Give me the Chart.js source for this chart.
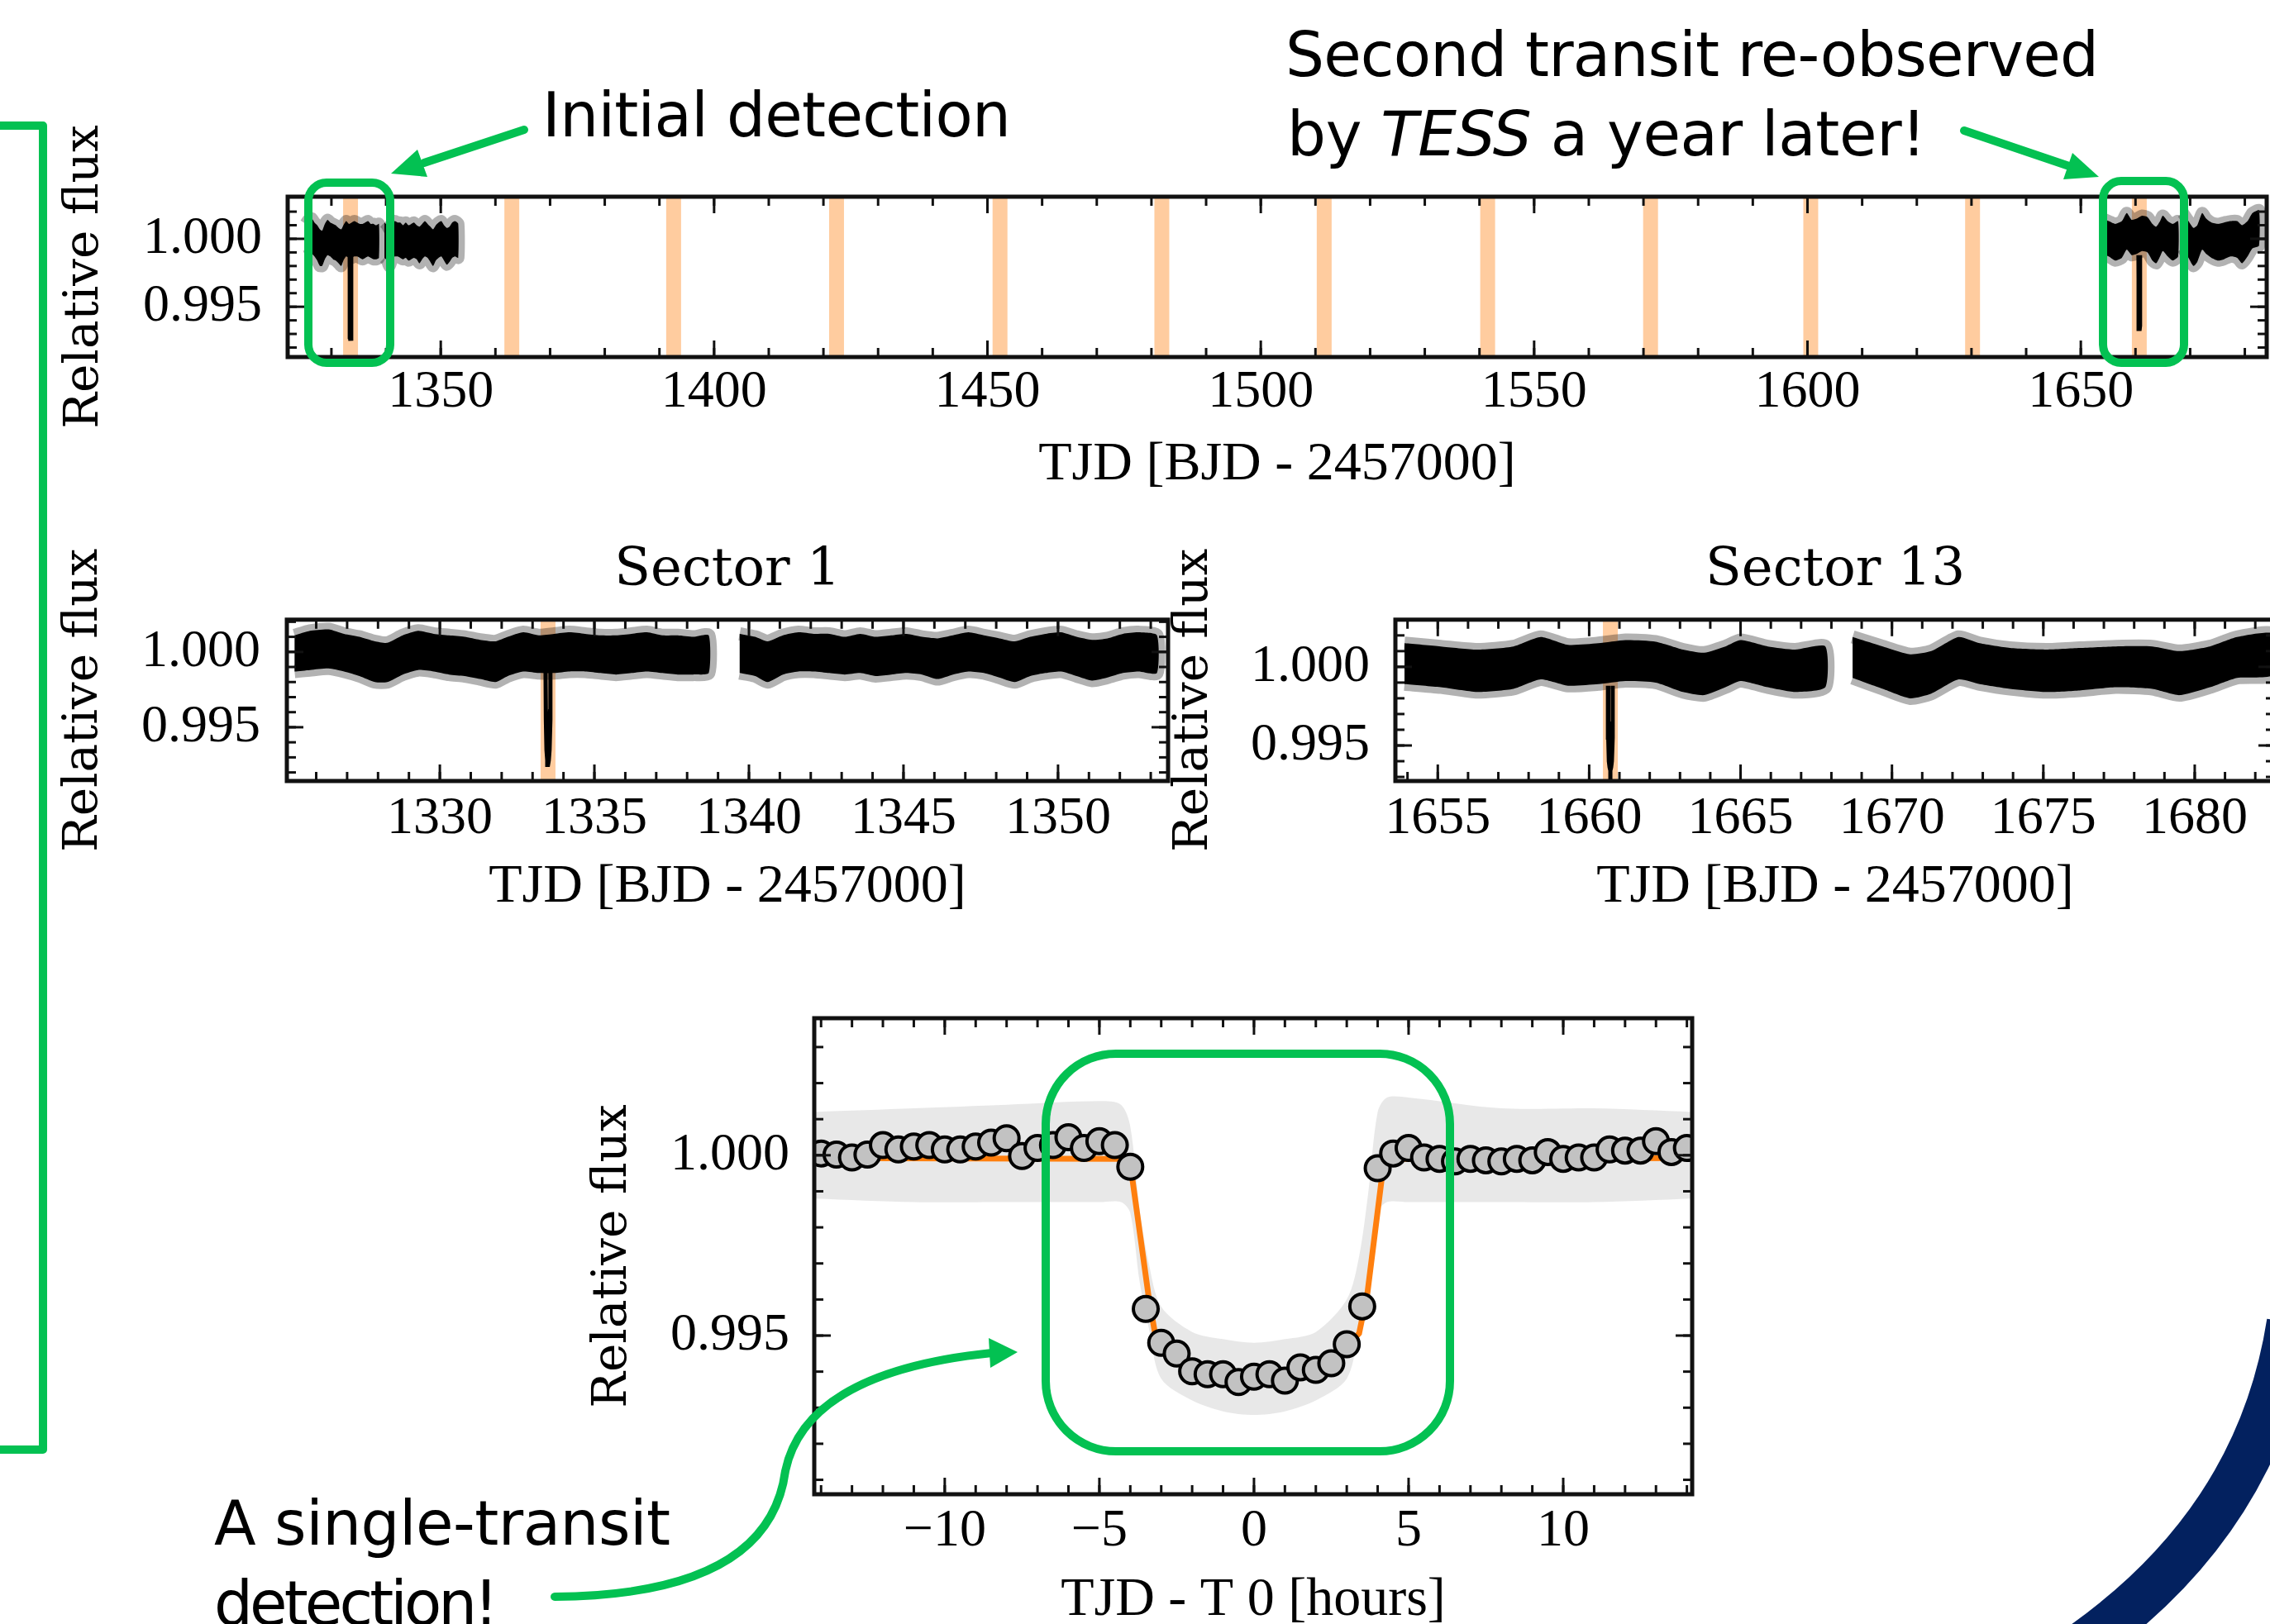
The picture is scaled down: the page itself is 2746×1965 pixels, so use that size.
<!DOCTYPE html>
<html>
<head>
<meta charset="utf-8">
<script src="https://cdn.jsdelivr.net/npm/chart.js@4.4.1/dist/chart.umd.min.js"></script>
<style>
  html, body { margin: 0; padding: 0; background: #fff; }
  #pagina { position: relative; width: 2746px; height: 1965px; overflow: hidden; background: #fff; }
  #pagina canvas { position: absolute; }
  #notas { position: absolute; left: 0; top: 0; }
</style>
</head>
<body>
<div id="pagina">
  <canvas id="completo" width="2686" height="490" style="left:60px;top:120px"></canvas>
  <canvas id="sector1" width="1400" height="520" style="left:60px;top:600px"></canvas>
  <canvas id="sector13" width="1380" height="520" style="left:1380px;top:600px"></canvas>
  <canvas id="plegada" width="1400" height="840" style="left:680px;top:1150px"></canvas>

  <svg id="notas" width="2746" height="1965" viewBox="0 0 2746 1965">
    <!-- arco azul del logo -->
    <path d="M2770 1600 C2745 1760 2660 1900 2490 2010" stroke="#03215f" stroke-width="56" fill="none"/>
    <g fill="none" stroke="#03c152" stroke-width="10" stroke-linecap="round" stroke-linejoin="round">
      <path d="M-10 152 L52 152 L52 1754 L-10 1754"/>
      <rect x="373" y="221" width="99" height="218" rx="22"/>
      <rect x="2544" y="219" width="98" height="220" rx="22"/>
      <rect x="1265" y="1275" width="489" height="481" rx="85"/>
      <path d="M634 157 L513 197"/>
      <path d="M2376 158 L2503 201"/>
      <path d="M671 1932 Q930 1930 950 1780 Q975 1660 1200 1637"/>
    </g>
    <g fill="#03c152">
      <polygon points="473,210 505,181 517,214"/>
      <polygon points="2539,214 2496,217 2507,185"/>
      <polygon points="1231,1636 1196,1619 1198,1655"/>
    </g>
    <g font-family="DejaVu Sans" font-size="74" fill="#000">
      <text x="656" y="165" textLength="567" lengthAdjust="spacing">Initial detection</text>
      <text x="1555" y="92" textLength="984" lengthAdjust="spacing">Second transit re-observed</text>
      <text x="1557" y="188" textLength="773" lengthAdjust="spacing">by <tspan font-style="italic">TESS</tspan> a year later!</text>
      <text x="259" y="1869" textLength="552" lengthAdjust="spacing">A single-transit</text>
      <text x="259" y="1966" textLength="344" lengthAdjust="spacing">detection!</text>
    </g>
  </svg>
</div>

<script>
// Curva de luz del Sector 1 (TJD): borde alto y bajo de la banda de puntos
const tiempoS1 = [1325.3, 1325.8, 1326.4, 1326.9, 1327.4, 1327.9, 1328.3, 1328.8, 1329.3, 1329.8,
  1330.3, 1330.8, 1331.3, 1331.8, 1332.2, 1332.7, 1333.2, 1333.7, 1334.2, 1334.7,
  1335.2, 1335.7, 1336.2, 1336.7, 1337.2, 1337.7, 1338.2, 1338.7, 1339.2,
  1339.7, 1340.2, 1340.6, 1341.1, 1341.6, 1342.1, 1342.6, 1343.1, 1343.6, 1344.1,
  1344.6, 1345.1, 1345.6, 1346.1, 1346.6, 1347.1, 1347.6, 1348.1, 1348.6, 1349.1,
  1349.6, 1350.1, 1350.6, 1351.1, 1351.6, 1352.1, 1352.6, 1353.2];
const altoS1 = [1.0011, 1.0014, 1.0015, 1.0012, 1.0010, 1.0007, 1.0006, 1.0011, 1.0014, 1.0012,
  1.0011, 1.0010, 1.0008, 1.0007, 1.0010, 1.0013, 1.0011, 1.0012, 1.0013, 1.0012,
  1.0011, 1.0011, 1.0012, 1.0013, 1.0011, 1.0011, 1.0010, 1.0011, null,
  1.0012, 1.0010, 1.0007, 1.0011, 1.0013, 1.0012, 1.0012, 1.0010, 1.0012, 1.0010,
  1.0011, 1.0012, 1.0010, 1.0009, 1.0011, 1.0013, 1.0011, 1.0009, 1.0007, 1.0010,
  1.0012, 1.0013, 1.0010, 1.0008, 1.0009, 1.0012, 1.0013, 1.0011];
const bajoS1 = [0.9987, 0.9988, 0.9989, 0.9987, 0.9984, 0.9980, 0.9980, 0.9985, 0.9988, 0.9987,
  0.9985, 0.9984, 0.9982, 0.9980, 0.9984, 0.9987, 0.9986, 0.9986, 0.9987, 0.9987,
  0.9986, 0.9985, 0.9986, 0.9987, 0.9986, 0.9985, 0.9985, 0.9986, null,
  0.9986, 0.9984, 0.9980, 0.9985, 0.9987, 0.9987, 0.9986, 0.9985, 0.9986, 0.9984,
  0.9985, 0.9986, 0.9985, 0.9982, 0.9985, 0.9987, 0.9986, 0.9983, 0.9980, 0.9984,
  0.9986, 0.9987, 0.9984, 0.9981, 0.9983, 0.9986, 0.9987, 0.9986];

// Curva de luz del Sector 13
const tiempoS13 = [1653.9, 1655.1, 1656.3, 1657.5, 1658.4, 1659.3, 1660.3, 1661.2, 1662.2, 1663.1,
  1663.8, 1664.5, 1665.0, 1665.9, 1666.8, 1667.8, 1668.2,
  1668.7, 1669.7, 1670.6, 1671.3, 1672.2, 1672.9, 1673.9, 1675.1, 1676.2,
  1677.4, 1678.6, 1679.5, 1680.5, 1681.4, 1682.6];
const altoS13 = [1.0015, 1.0013, 1.0011, 1.0013, 1.0019, 1.0014, 1.0015, 1.0017, 1.0016, 1.0011,
  1.0009, 1.0013, 1.0017, 1.0013, 1.0011, 1.0013, null,
  1.0019, 1.0013, 1.0008, 1.0010, 1.0019, 1.0015, 1.0012, 1.0011, 1.0012,
  1.0013, 1.0013, 1.0010, 1.0013, 1.0019, 1.0021];
const bajoS13 = [0.9989, 0.9987, 0.9984, 0.9986, 0.9992, 0.9988, 0.9989, 0.9991, 0.9990, 0.9984,
  0.9982, 0.9987, 0.9991, 0.9987, 0.9984, 0.9987, null,
  0.9993, 0.9986, 0.9980, 0.9983, 0.9992, 0.9989, 0.9986, 0.9984, 0.9985,
  0.9987, 0.9986, 0.9982, 0.9987, 0.9993, 0.9995];

// Epocas de transito marcadas en naranja
const epocasTransito = [1333.5, 1363.0, 1392.6, 1422.4, 1452.3, 1481.9, 1511.6, 1541.5, 1571.3, 1600.6, 1630.2, 1660.7];
const t0Sector1 = 1333.5;
const t0Sector13 = 1660.7;

// Puntos dentro del transito (dias respecto a T0): borde alto y bajo
const desfaseTransito = [-0.08, -0.07, -0.05, -0.025, 0, 0.025, 0.05, 0.07, 0.08];
const altoTransito1 = [0.9988, 0.9962, 0.9950, 0.9946, 0.9945, 0.9946, 0.9950, 0.9962, 0.9988];
const bajoTransito1 = [0.9985, 0.9955, 0.9935, 0.9928, 0.9925, 0.9928, 0.9935, 0.9955, 0.9985];
const altoTransito13 = [0.9988, 0.9965, 0.9958, 0.9957, 0.9957, 0.9957, 0.9958, 0.9965, 0.9988];
const bajoTransito13 = [0.9985, 0.9955, 0.9940, 0.9936, 0.9934, 0.9936, 0.9940, 0.9955, 0.9985];

// Curva plegada: datos agrupados (horas)
const horasBin = [-14.0, -13.5, -13.0, -12.5, -12.0, -11.5, -11.0, -10.5, -10.0, -9.5,
  -9.0, -8.5, -8.0, -7.5, -7.0, -6.5, -6.0, -5.5, -5.0, -4.5,
  -4.0, -3.5, -3.0, -2.5, -2.0, -1.5, -1.0, -0.5, 0.0, 0.5,
  1.0, 1.5, 2.0, 2.5, 3.0, 3.5, 4.0, 4.5, 5.0, 5.5,
  6.0, 6.5, 7.0, 7.5, 8.0, 8.5, 9.0, 9.5, 10.0, 10.5,
  11.0, 11.5, 12.0, 12.5, 13.0, 13.5, 14.0];
const flujoBin = [1.00005, 1.00002, 0.99994, 1.00002, 1.00028, 1.00016, 1.00024, 1.00028, 1.00016, 1.00016,
  1.00024, 1.00035, 1.00047, 0.99998, 1.00020, 1.00028, 1.00050, 1.00020, 1.00039, 1.00028,
  0.99968, 0.99574, 0.99480, 0.99450, 0.99401, 0.99393, 0.99393, 0.99371, 0.99386, 0.99393,
  0.99375, 0.99412, 0.99405, 0.99423, 0.99476, 0.99581, 0.99964, 1.00005, 1.00020, 0.99994,
  0.99990, 0.99983, 0.99990, 0.99986, 0.99983, 0.99990, 0.99986, 1.00009, 0.99990, 0.99994,
  0.99994, 1.00016, 1.00013, 1.00013, 1.00039, 1.00009, 1.00020];

// Modelo del transito (naranja)
const horasModelo = [-14.2, -4.1, -3.95, -3.4, -3.2, -3.0, -2.5, -2.0, -1.5, -1.0, -0.5, 0.0,
  0.5, 1.0, 1.5, 2.0, 2.5, 3.0, 3.4, 3.67, 4.14, 4.3, 14.2];
const flujoModelo = [0.99992, 0.99990, 0.99945, 0.99604, 0.99506, 0.99470, 0.99435, 0.99410, 0.99393, 0.99382, 0.99376, 0.99374,
  0.99376, 0.99382, 0.99393, 0.99410, 0.99435, 0.99470, 0.99506, 0.99619, 0.99941, 0.99990, 0.99992];

// Nube de puntos sin agrupar: borde superior e inferior
const horasNube = [-14.2, -11, -8, -5, -4.3, -4.0, -3.7, -3.4, -3.0, -2.0, -1.0, 0, 1.0, 2.0, 3.0, 3.4, 3.7, 4.0, 4.3, 5, 8, 11, 14.2];
const nubeAlta = [1.0012, 1.0013, 1.0014, 1.0015, 1.0014, 1.0008, 0.9985, 0.9970, 0.9958, 0.9951, 0.9949, 0.9948,
  0.9949, 0.9951, 0.9960, 0.9972, 0.9990, 1.0012, 1.0016, 1.0016, 1.0013, 1.0013, 1.0012];
const nubeBaja = [0.9988, 0.9987, 0.9987, 0.9987, 0.9987, 0.9984, 0.9965, 0.9952, 0.9938, 0.9932, 0.9929, 0.9928,
  0.9929, 0.9932, 0.9938, 0.9952, 0.9966, 0.9984, 0.9987, 0.9987, 0.9987, 0.9987, 0.9988];

// Etiquetas de los ejes
const marcasCompleto = [1350, 1400, 1450, 1500, 1550, 1600, 1650];
const marcasSector1 = [1330, 1335, 1340, 1345, 1350];
const marcasSector13 = [1655, 1660, 1665, 1670, 1675, 1680];
const marcasHoras = [-10, -5, 0, 5, 10];
const marcasFlujo = [0.995, 1.000];

const naranjaSuave = 'rgba(255,127,14,0.4)';
const niebla = 'rgba(0,0,0,0.3)';

function puntos(xs, ys) {
  return xs.map((x, i) => ({ x: x, y: ys[i] }));
}

function rango(a, b, paso) {
  const r = [];
  for (let v = a; v <= b + paso / 1000; v += paso) r.push(Math.round(v * 10000) / 10000);
  return r;
}

// linea vertical naranja (axvline)
function franja(t, y0, y1, ancho) {
  return { data: [{ x: t, y: y0 }, { x: t, y: y1 }], borderColor: naranjaSuave, borderWidth: ancho, pointRadius: 0, order: 5 };
}

// banda negra: un poligono por orbita (se corta donde hay null)
function banda(xs, alto, bajo, borde) {
  const trozos = [];
  let actual = [];
  xs.forEach((x, i) => {
    if (alto[i] === null) { if (actual.length) trozos.push(actual); actual = []; }
    else actual.push(i);
  });
  if (actual.length) trozos.push(actual);
  return trozos.map(idx => {
    const arriba = idx.map(i => ({ x: xs[i], y: alto[i] }));
    const abajo = idx.map(i => ({ x: xs[i], y: bajo[i] })).reverse();
    return { data: arriba.concat(abajo), fill: 'shape', backgroundColor: '#000', borderColor: niebla,
      borderWidth: borde, borderJoinStyle: 'round', pointRadius: 0, tension: 0.2, order: 3 };
  });
}

// transito: forma cerrada entre el borde alto y el bajo
function transito(t0, alto, bajo, borde) {
  const arriba = desfaseTransito.map((d, i) => ({ x: t0 + d, y: alto[i] }));
  const abajo = desfaseTransito.map((d, i) => ({ x: t0 + d, y: bajo[i] })).reverse();
  return { data: arriba.concat(abajo), fill: 'shape', backgroundColor: '#000', borderColor: '#000',
    borderWidth: borde, pointRadius: 0, order: 1 };
}

// marco y marcas hacia dentro
function marco(c) {
  return {
    id: 'marco',
    afterDatasetsDraw(chart) {
      const { ctx, chartArea: a } = chart;
      const ex = chart.scales.x, ey = chart.scales.y;
      ctx.save();
      ctx.strokeStyle = '#111';
      ctx.lineWidth = 3;
      const raya = (x1, y1, x2, y2) => { ctx.beginPath(); ctx.moveTo(x1, y1); ctx.lineTo(x2, y2); ctx.stroke(); };
      const rayasX = (vals, largo) => vals.forEach(v => {
        const p = ex.getPixelForValue(v);
        if (p <= a.left + 2 || p >= a.right - 2) return;
        raya(p, a.bottom, p, a.bottom - largo);
        raya(p, a.top, p, a.top + largo);
      });
      const rayasY = (vals, largo) => vals.forEach(v => {
        const p = ey.getPixelForValue(v);
        if (p <= a.top + 2 || p >= a.bottom - 2) return;
        raya(a.left, p, a.left + largo, p);
        raya(a.right, p, a.right - largo, p);
      });
      rayasX(c.xMenor, 11); rayasX(c.xMayor, 20);
      rayasY(c.yMenor, 11); rayasY(c.yMayor, 20);
      ctx.lineWidth = 5;
      ctx.strokeRect(a.left, a.top, a.right - a.left, a.bottom - a.top);
      ctx.restore();
    }
  };
}

const fuenteMarca = { family: 'Liberation Serif', size: 64 };
const fuenteEje = { family: 'Liberation Serif', size: 66 };
const fuenteFlujo = { family: 'DejaVu Serif', size: 58 };

function ejes(c) {
  return {
    x: {
      type: 'linear', min: c.xMin, max: c.xMax,
      afterBuildTicks: s => { s.ticks = c.xMarcas.map(v => ({ value: v })); },
      afterFit: s => { s.height = c.altoX; },
      ticks: { callback: c.formatoX || (v => String(v)), padding: c.rellenoX, font: fuenteMarca, color: '#000',
        maxRotation: 0, minRotation: 0, autoSkip: false },
      grid: { display: false, drawTicks: false },
      border: { display: false },
      title: { display: true, text: c.tituloX, font: fuenteEje, color: '#000', padding: { top: 0, bottom: c.rellenoTituloX } }
    },
    y: {
      type: 'linear', min: c.yMin, max: c.yMax,
      afterBuildTicks: s => { s.ticks = marcasFlujo.map(v => ({ value: v })); },
      afterFit: s => { s.width = c.anchoY; },
      ticks: { callback: v => v.toFixed(3), padding: c.rellenoY, font: fuenteMarca, color: '#000', autoSkip: false },
      grid: { display: false, drawTicks: false },
      border: { display: false },
      title: { display: true, text: 'Relative flux', font: fuenteFlujo, color: '#000', padding: { top: c.rellenoTituloY, bottom: 0 } }
    }
  };
}

function opciones(relleno, escalas, titulo) {
  return {
    responsive: false, animation: false, events: [],
    layout: { padding: relleno },
    datasets: { line: { clip: 0 } },
    plugins: {
      legend: { display: false },
      tooltip: { enabled: false },
      title: titulo ? { display: true, text: titulo, fullSize: false, color: '#000',
        font: { family: 'DejaVu Serif', size: 64, weight: 'normal' }, padding: { top: 53, bottom: 20 } } : { display: false }
    },
    scales: escalas
  };
}

// Grafico completo: los dos sectores
const yMinC = 0.9913, yMaxC = 1.0031;
new Chart(document.getElementById('completo'), {
  type: 'line',
  data: {
    datasets: [
      transito(t0Sector1, altoTransito1, bajoTransito1, 6),
      transito(t0Sector13, altoTransito13, bajoTransito13, 6)
    ].concat(banda(tiempoS1, altoS1, bajoS1, 15), banda(tiempoS13, altoS13, bajoS13, 15),
      epocasTransito.map(t => franja(t, yMinC, yMaxC, 18)))
  },
  options: opciones({ top: 118, right: 4, left: 0, bottom: 0 }, ejes({
    xMin: 1322, xMax: 1684, xMarcas: marcasCompleto, altoX: 178, rellenoX: 5,
    tituloX: 'TJD [BJD - 2457000]', rellenoTituloX: 8,
    yMin: yMinC, yMax: yMaxC, anchoY: 288, rellenoY: 31, rellenoTituloY: 8
  })),
  plugins: [marco({ xMayor: marcasCompleto, xMenor: rango(1330, 1680, 10), yMayor: marcasFlujo, yMenor: rango(0.992, 1.003, 0.001) })]
});

// Sector 1
const yMin1 = 0.99143, yMax1 = 1.00214;
new Chart(document.getElementById('sector1'), {
  type: 'line',
  data: {
    datasets: [transito(t0Sector1, altoTransito1, bajoTransito1, 5)]
      .concat(banda(tiempoS1, altoS1, bajoS1, 16), [franja(t0Sector1, yMin1, yMax1, 18)])
  },
  options: opciones({ top: 0, right: 47, left: 0, bottom: 0 }, ejes({
    xMin: 1325.05, xMax: 1353.56, xMarcas: marcasSector1, altoX: 175, rellenoX: 8,
    tituloX: 'TJD [BJD - 2457000]', rellenoTituloX: 7,
    yMin: yMin1, yMax: yMax1, anchoY: 287, rellenoY: 32, rellenoTituloY: 7
  }), 'Sector 1'),
  plugins: [marco({ xMayor: marcasSector1, xMenor: rango(1326, 1353, 1), yMayor: marcasFlujo, yMenor: rango(0.992, 1.002, 0.001) })]
});

// Sector 13
const yMin13 = 0.99274, yMax13 = 1.0030;
new Chart(document.getElementById('sector13'), {
  type: 'line',
  data: {
    datasets: [transito(t0Sector13, altoTransito13, bajoTransito13, 5)]
      .concat(banda(tiempoS13, altoS13, bajoS13, 16), [franja(t0Sector13, yMin13, yMax13, 18)])
  },
  options: opciones({ top: 0, right: 8, left: 0, bottom: 0 }, ejes({
    xMin: 1653.6, xMax: 1682.65, xMarcas: marcasSector13, altoX: 175, rellenoX: 8,
    tituloX: 'TJD [BJD - 2457000]', rellenoTituloX: 7,
    yMin: yMin13, yMax: yMax13, anchoY: 308, rellenoY: 31, rellenoTituloY: 30
  }), 'Sector 13'),
  plugins: [marco({ xMayor: marcasSector13, xMenor: rango(1654, 1682, 1), yMayor: marcasFlujo, yMenor: rango(0.993, 1.003, 0.001) })]
});

// Curva plegada alrededor de T0
new Chart(document.getElementById('plegada'), {
  type: 'line',
  data: {
    datasets: [
      { data: puntos(horasBin, flujoBin), showLine: false, pointRadius: 15, pointBorderWidth: 4,
        pointBackgroundColor: '#c2c2c2', pointBorderColor: '#000', order: 0 },
      { data: puntos(horasModelo, flujoModelo), borderColor: '#ff7f0e', borderWidth: 7, pointRadius: 0, order: 1 },
      { data: puntos(horasNube, nubeAlta), borderWidth: 0, pointRadius: 0, tension: 0.3, order: 2 },
      { data: puntos(horasNube, nubeBaja), borderWidth: 0, pointRadius: 0, tension: 0.3, order: 3,
        fill: '-1', backgroundColor: 'rgba(0,0,0,0.09)' }
    ]
  },
  options: opciones({ top: 82, right: 33, left: 0, bottom: 0 }, ejes({
    xMin: -14.22, xMax: 14.17, xMarcas: marcasHoras, altoX: 182, rellenoX: 7,
    formatoX: v => (v < 0 ? '\u2212' + Math.abs(v) : String(v)),
    tituloX: 'TJD - T 0 [hours]', rellenoTituloX: 14,
    yMin: 0.9906, yMax: 1.0038, anchoY: 305, rellenoY: 30, rellenoTituloY: 27
  })),
  plugins: [marco({ xMayor: marcasHoras, xMenor: rango(-14, 14, 1), yMayor: marcasFlujo, yMenor: rango(0.991, 1.003, 0.001) })]
});
</script>
</body>
</html>
